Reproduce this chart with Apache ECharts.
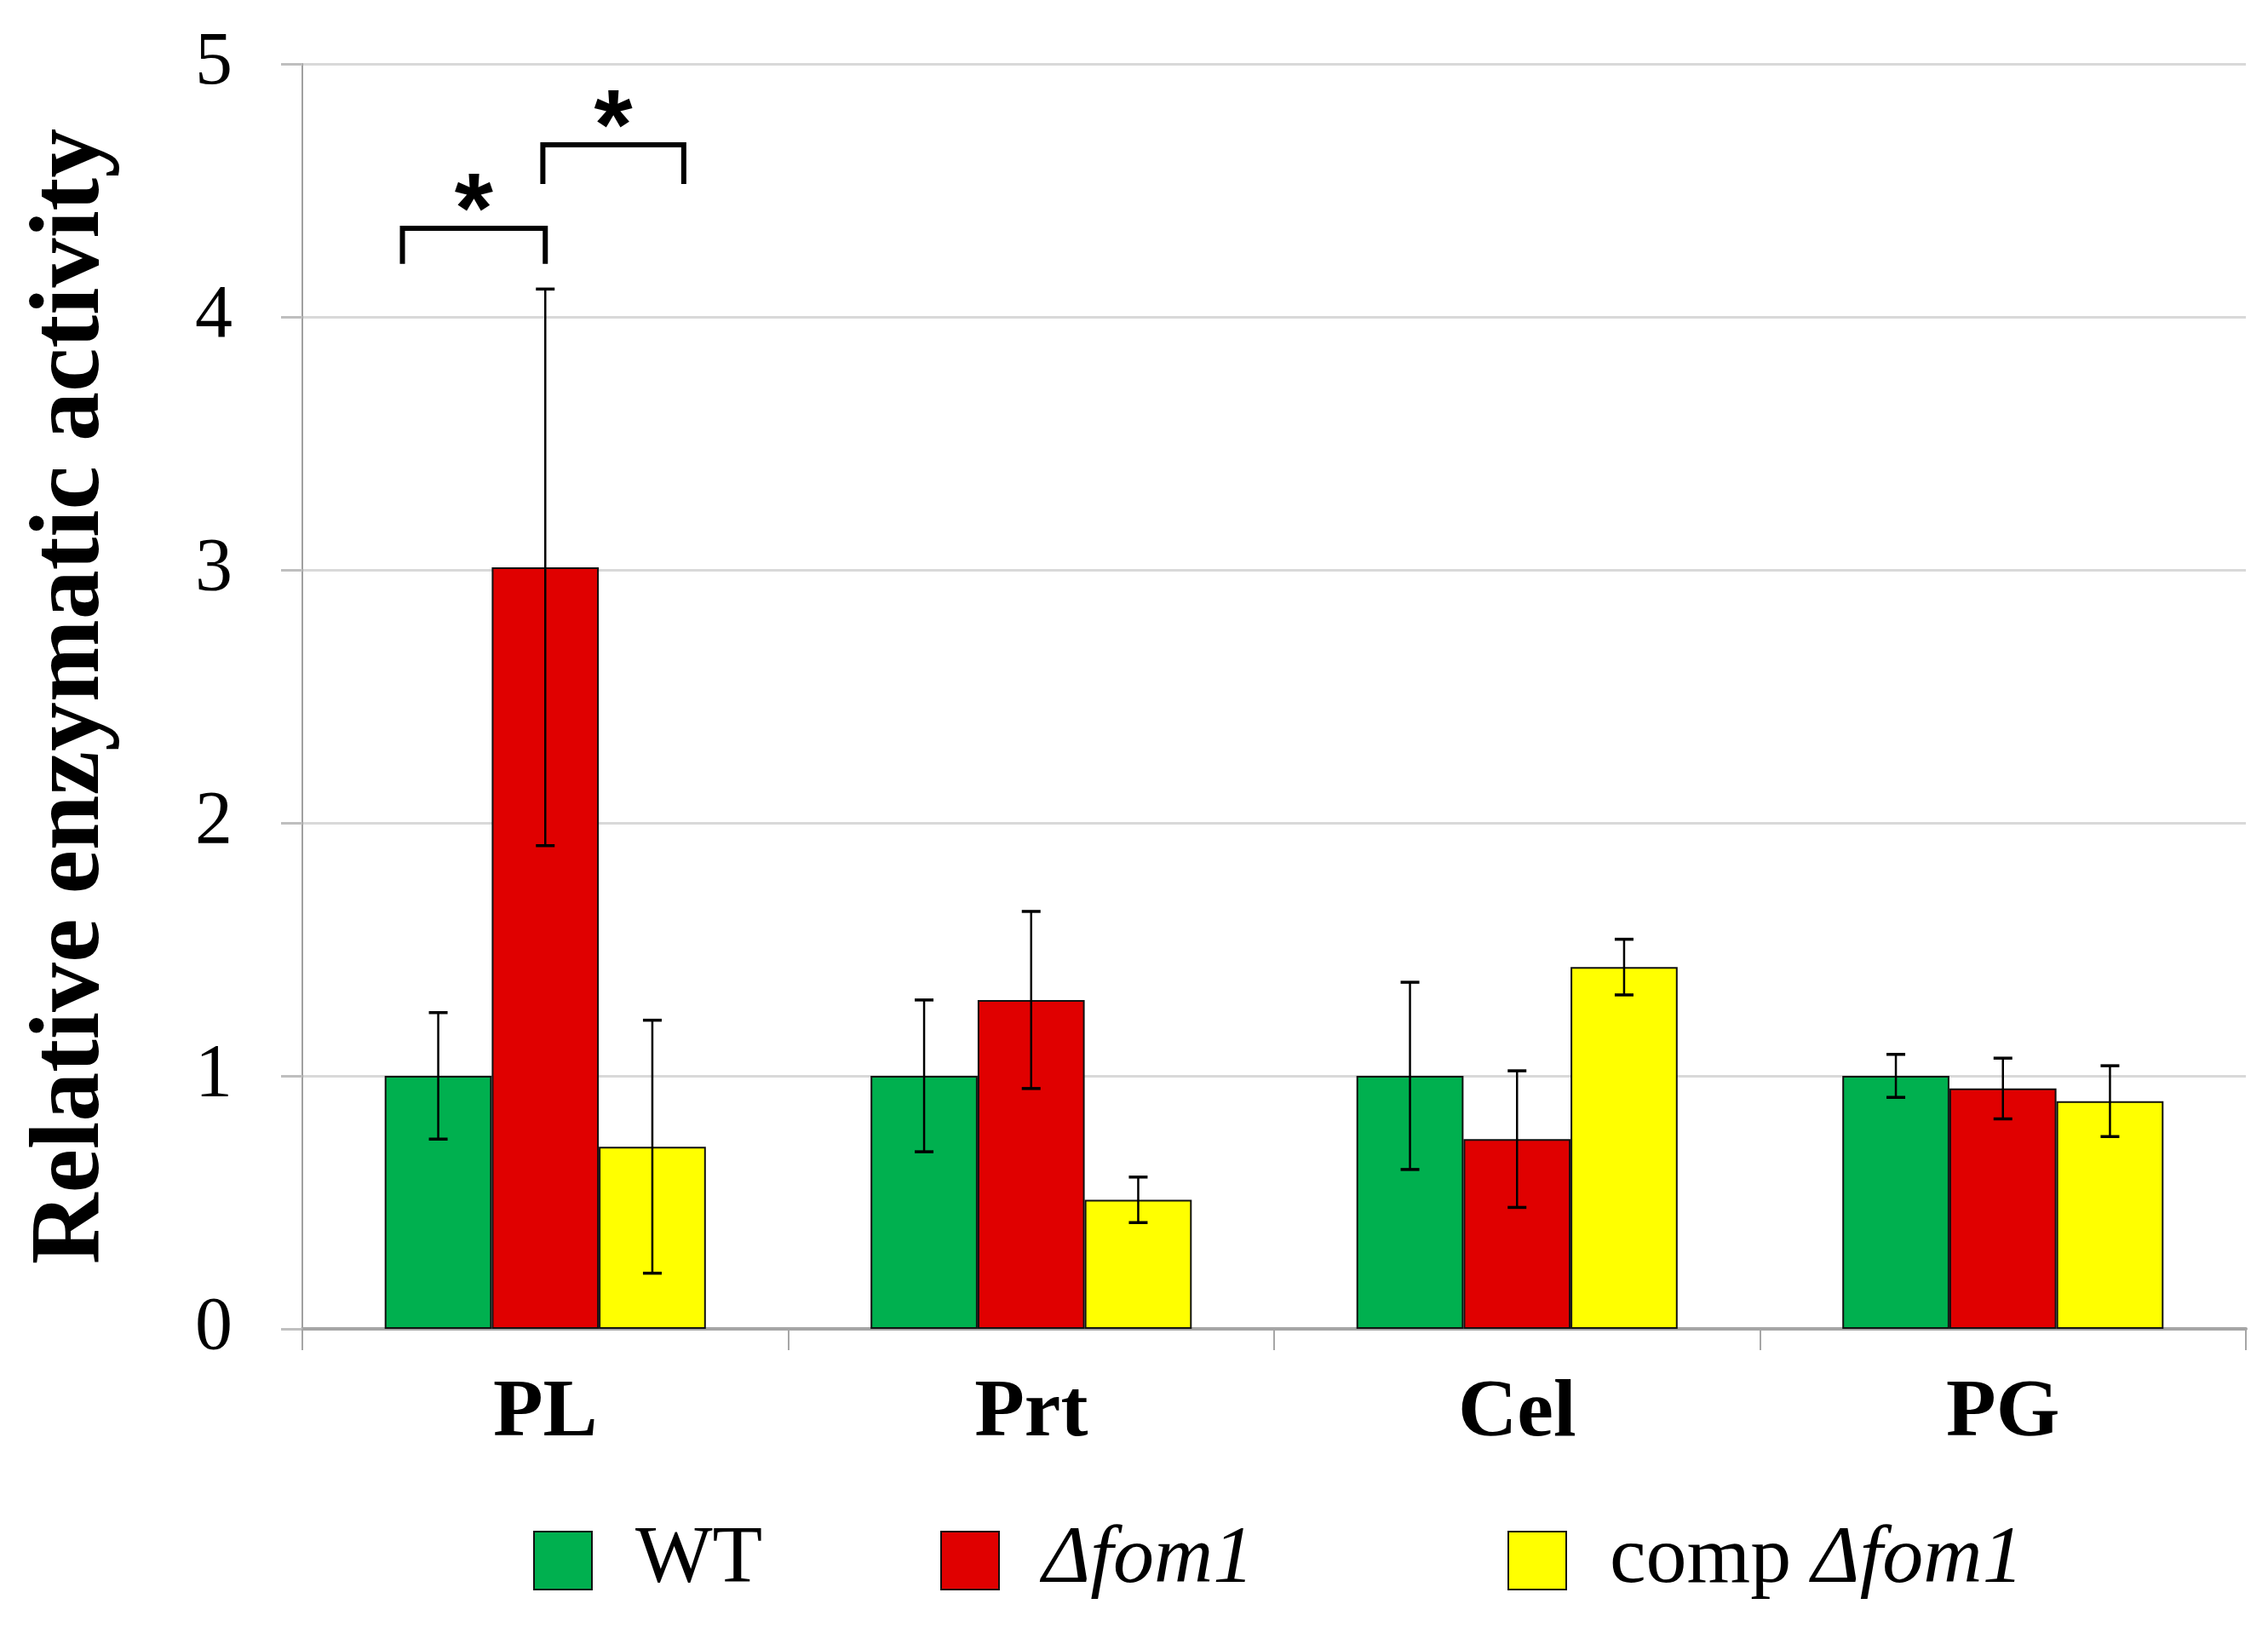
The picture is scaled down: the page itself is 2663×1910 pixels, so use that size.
<!DOCTYPE html>
<html>
<head>
<meta charset="utf-8">
<script src="https://cdn.jsdelivr.net/npm/echarts@6/dist/echarts.min.js"></script>
<style>html,body{margin:0;padding:0;background:#fff}#c{width:2663px;height:1910px}</style>
</head>
<body>
<div id="c"></div>
<script>
const categories = ['PL', 'Prt', 'Cel', 'PG'];
const seriesNames = ['WT', 'Δfom1', 'comp Δfom1'];
const wtValues = [1.00, 1.00, 1.00, 1.00];
const dfom1Values = [3.01, 1.30, 0.75, 0.95];
const compValues = [0.72, 0.51, 1.43, 0.90];
const wtErr = [0.25, 0.30, 0.37, 0.085];
const dfom1Err = [1.10, 0.35, 0.27, 0.12];
const compErr = [0.50, 0.09, 0.11, 0.14];
const yTickValues = [0, 1, 2, 3, 4, 5];
// significance brackets: category index, left/right leg offset (fraction of band), top and leg-bottom values, star value
const sigBrackets = [
  [0, -0.294, 0.000, 4.35, 4.21, 4.40],
  [0, -0.005, 0.285, 4.68, 4.525, 4.73]
];

const colors = ['#00B04F', '#E00000', '#FFFF00'];
const values = [wtValues, dfom1Values, compValues];
const errs = [wtErr, dfom1Err, compErr];
const CAT_GAP = 0.339;
const serif = 'Liberation Serif';

const chart = echarts.init(document.getElementById('c'));

const barSeries = values.map((vals, i) => ({
  name: seriesNames[i],
  type: 'bar',
  data: vals,
  barGap: '0%',
  barCategoryGap: (CAT_GAP * 100) + '%',
  itemStyle: { color: colors[i], borderColor: '#111', borderWidth: 2 },
  z: 2
}));

const errSeries = errs.map((e, i) => ({
  type: 'custom',
  name: 'err' + i,
  data: values[i].map((v, k) => [k, v - e[k], v + e[k]]),
  encode: { x: 0, y: [1, 2] },
  z: 5,
  silent: true,
  renderItem: function (params, api) {
    const band = api.size([1, 0])[0];
    const barW = band * (1 - CAT_GAP) / 3;
    const off = (i - 1) * barW;
    const lo = api.coord([api.value(0), api.value(1)]);
    const hi = api.coord([api.value(0), api.value(2)]);
    const x = lo[0] + off;
    const cap = 11;
    const st = { stroke: '#000', lineWidth: 2.5 };
    return {
      type: 'group',
      children: [
        { type: 'line', shape: { x1: x, y1: lo[1], x2: x, y2: hi[1] }, style: st },
        { type: 'line', shape: { x1: x - cap, y1: lo[1], x2: x + cap, y2: lo[1] }, style: { stroke: '#000', lineWidth: 3.5 } },
        { type: 'line', shape: { x1: x - cap, y1: hi[1], x2: x + cap, y2: hi[1] }, style: { stroke: '#000', lineWidth: 3.5 } }
      ]
    };
  }
}));

const sigSeries = {
  type: 'custom',
  name: 'sig',
  data: sigBrackets,
  encode: { x: 0, y: [3, 4, 5] },
  z: 6,
  silent: true,
  renderItem: function (params, api) {
    const band = api.size([1, 0])[0];
    const c = api.coord([api.value(0), api.value(3)]);
    const b = api.coord([api.value(0), api.value(4)]);
    const s = api.coord([api.value(0), api.value(5)]);
    const x0 = c[0] + api.value(1) * band;
    const x1 = c[0] + api.value(2) * band;
    return {
      type: 'group',
      children: [
        { type: 'polyline', shape: { points: [[x0, b[1]], [x0, c[1]], [x1, c[1]], [x1, b[1]]] },
          style: { stroke: '#000', lineWidth: 6, fill: null } },
        { type: 'text', x: (x0 + x1) / 2, y: s[1],
          style: { text: '*', font: 'bold 116px "Liberation Sans"', fill: '#000', align: 'center', verticalAlign: 'middle' } }
      ]
    };
  }
};

const legendBase = {
  orient: 'horizontal',
  top: 1784,
  padding: 0,
  itemWidth: 68,
  itemHeight: 68,
  icon: 'rect',
  selectedMode: false,
  textStyle: {
    fontFamily: serif, fontSize: 96, color: '#000', lineHeight: 96,
    padding: [0, 0, 0, 46],
    rich: {
      r: { fontFamily: serif, fontSize: 96, color: '#000' },
      i: { fontFamily: serif, fontSize: 96, fontStyle: 'italic', color: '#000' }
    }
  }
};

chart.setOption({
  animation: false,
  backgroundColor: '#fff',
  grid: { left: 355, right: 26, top: 75, bottom: 350, containLabel: false, outerBoundsMode: 'none' },
  legend: [
    Object.assign({}, legendBase, { data: [seriesNames[0]], left: 626, formatter: '{r|WT}' }),
    Object.assign({}, legendBase, { data: [seriesNames[1]], left: 1104, formatter: '{i|Δfom1}' }),
    Object.assign({}, legendBase, { data: [seriesNames[2]], left: 1770, formatter: '{r|comp }{i|Δfom1}' })
  ],
  xAxis: {
    type: 'category',
    data: categories,
    axisLine: { show: true, lineStyle: { color: '#A6A6A6', width: 4 } },
    axisTick: { show: true, length: 25, interval: 0, lineStyle: { color: '#A6A6A6', width: 2 } },
    axisLabel: { margin: 52, fontFamily: serif, fontWeight: 'bold', fontSize: 96, color: '#000', interval: 0 },
    splitLine: { show: false }
  },
  yAxis: {
    type: 'value',
    min: yTickValues[0],
    max: yTickValues[yTickValues.length - 1],
    interval: 1,
    name: 'Relative enzymatic activity',
    nameLocation: 'middle',
    nameGap: 212,
    nameTextStyle: { fontFamily: serif, fontWeight: 'bold', fontSize: 116, color: '#000' },
    axisLine: { show: true, lineStyle: { color: '#A0A0A0', width: 2 } },
    axisTick: { show: true, length: 25, lineStyle: { color: '#BFBFBF', width: 3 } },
    axisLabel: { margin: 82, fontFamily: serif, fontSize: 88, color: '#000' },
    splitLine: { show: true, lineStyle: { color: '#D9D9D9', width: 3 } }
  },
  series: barSeries.concat(errSeries, [sigSeries])
});
</script>
</body>
</html>
